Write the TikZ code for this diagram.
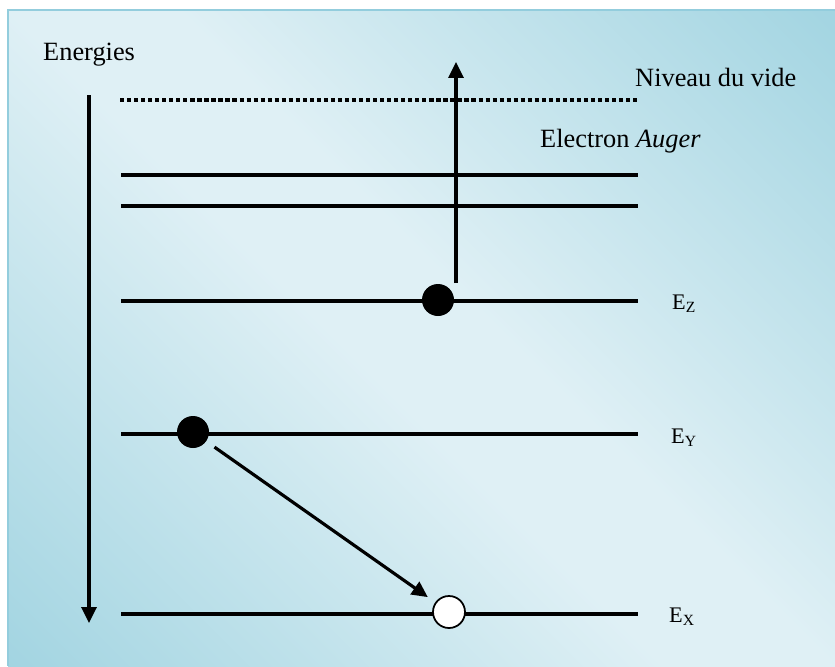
\documentclass[tikz,border=0pt]{standalone}
\usepackage{fontspec}
\setmainfont{Liberation Serif}
\usepackage{xcolor}
\usetikzlibrary{arrows.meta}
\definecolor{aquadark}{HTML}{92CDDC}
\definecolor{aqualight}{HTML}{DFF0F5}
\definecolor{aquaborder}{HTML}{93CDDD}
\pgfdeclareverticalshading{fond}{100bp}{color(0bp)=(aquadark); color(6bp)=(aquadark);
  color(46bp)=(aqualight); color(54bp)=(aqualight); color(94bp)=(aquadark); color(100bp)=(aquadark)}

\begin{document}
\begin{tikzpicture}[x=0.03cm,y=-0.03cm,
  niveau/.style={line width=2.7pt},
  fleche/.style={line width=2.7pt,-{Triangle[width=12.8pt,length=13.6pt]}},
  electron/.style={circle,fill=black,minimum size=0.96cm,inner sep=0pt},
  trou/.style={circle,draw=black,line width=1.5pt,fill=white,minimum size=0.96cm,inner sep=0pt},
  texte/.style={anchor=base west,inner sep=0pt,font=\fontsize{22.5}{27}\selectfont},
  etiquette/.style={anchor=base west,inner sep=0pt,font=\fontsize{19}{23}\selectfont}]
\useasboundingbox (0,0) rectangle (835,666);
\shade[shading=fond,shading angle=-45] (0.24cm,-0.3cm) rectangle (25.05cm,-19.98cm);
\draw[aquaborder,line width=1.5pt] (8,666) -- (8,10) -- (835,10);
% axe des energies
\node[texte] (energies) at (43,60) {Energies};
\coordinate (haut) at (89,95);
\coordinate (bas) at (89,623);
\draw[fleche] (haut) -- (bas);
% niveaux
\draw[niveau,dash pattern=on 3.6pt off 2.4pt] (120,100) -- (637,100);
\node[texte] (vide) at (635,86) {Niveau du vide};
\node[texte] (auger) at (540,147) {Electron \textit{Auger}};
\draw[niveau] (121,175) -- (638,175);
\draw[niveau] (121,206) -- (638,206);
\draw[niveau] (121,301) -- (638,301);
\draw[niveau] (121,434) -- (638,434);
\draw[niveau] (121,614) -- (638,614);
\node[etiquette] (lz) at (672,309) {E\textsubscript{Z}};
\node[etiquette] (ly) at (671,443) {E\textsubscript{Y}};
\node[etiquette] (lx) at (669,622) {E\textsubscript{X}};
% electrons
\node[electron] (ez) at (438,300) {};
\node[electron] (ey) at (193,432) {};
\node[trou] (ex) at (449,612) {};
\coordinate (depart) at (456,283);
\coordinate (sortie) at (456,62);
\draw[fleche] (depart) -- (sortie);
\draw[fleche,shorten <=0.3cm,shorten >=0.27cm] (ey) -- (ex);
\end{tikzpicture}
\end{document}
